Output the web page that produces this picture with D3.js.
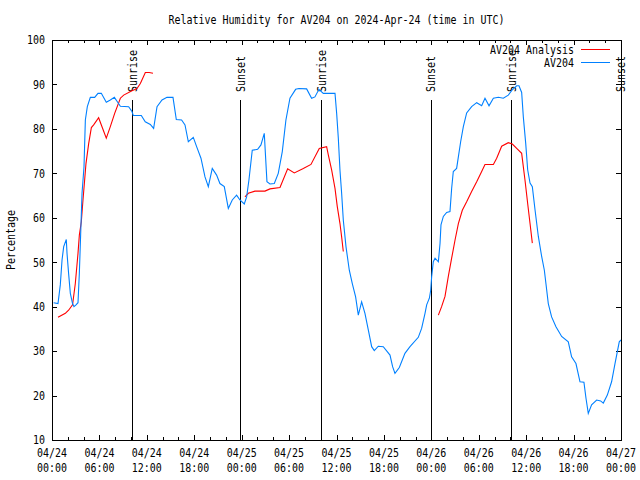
<!DOCTYPE html>
<html>
<head>
<meta charset="utf-8">
<script src="https://cdn.jsdelivr.net/npm/d3@7"></script>
<style>
  body { margin: 0; background: #fff; }
  text { font-family: "DejaVu Sans Mono", monospace; font-size: 12px; fill: #000; }
</style>
</head>
<body>
<div id="plot"></div>
<script>
// hours since 2024-04-24 00:00 UTC, relative humidity (%)
const startDay = Date.UTC(2024, 3, 24);

const obsRH = [
  [0.2,40.9],[0.76,40.7],[1.05,44.9],[1.27,50.5],[1.48,53.5],[1.81,55.1],[1.9,52],[2.1,47.5],[2.32,43],[2.6,40.7],
  [2.78,40],[3.04,40.4],[3.29,40.9],[3.46,47.5],[3.63,56.5],[3.8,65.5],[4.05,71.5],[4.22,82],[4.47,85],[4.85,87.1],
  [5.4,87.1],[5.82,88],[6.24,88],[6.87,86],[7.38,86.5],[7.89,87.1],[8.27,86.1],[8.65,85.1],[9.7,85],[10.12,83.9],
  [10.29,83],[11.3,83],[11.8,81.6],[12.44,81],[12.86,80.1],[13.29,85],[13.92,86.5],[14.55,87.1],[15.31,87.1],[15.73,82.1],
  [16.4,82],[16.83,80.9],[17.25,77.1],[17.88,78.1],[18.3,76],[18.85,73.4],[19.36,69.2],[19.78,67],[20.28,71.1],[20.83,69.6],
  [21.25,67.7],[21.8,67],[22.31,62.1],[22.81,64],[23.36,65.1],[23.78,64],[24.33,63.1],[24.63,64.7],[24.92,68.5],[25.34,75.2],
  [26.02,75.4],[26.44,76.4],[26.86,79],[27.2,68.1],[27.58,67.6],[28.13,67.7],[28.63,70],[29.14,74.9],[29.6,82],[30.11,86.9],
  [30.83,88.9],[31.25,89.1],[32.22,89],[32.85,86.9],[33.27,87.2],[33.78,88.9],[34.33,88],[35.81,88],[36.02,83.5],[36.23,77.9],
  [36.44,70.7],[36.65,65.5],[36.86,59.5],[37.2,53.5],[37.62,48.2],[38,45.2],[38.42,42.2],[38.76,38.1],[39.18,41.1],[39.6,38.5],
  [40.03,34.7],[40.45,31],[40.78,30.1],[41.29,31.1],[41.92,31],[42.77,29.1],[43.1,26.5],[43.4,25],[43.95,26.3],[44.66,29.5],
  [45.3,31],[46.35,33.1],[46.77,35.1],[47.2,38.5],[47.41,40.4],[47.75,41.9],[47.92,43.7],[48.04,46.7],[48.25,50.1],[48.47,50.9],
  [48.89,50.1],[49.1,54.2],[49.22,58.4],[49.52,60.3],[49.94,61.2],[50.36,61.4],[50.57,66.6],[50.78,70.4],[51.2,71.1],[51.42,73.7],
  [51.71,77.1],[52.05,80.5],[52.47,83.6],[53.1,85],[53.74,85.9],[54.37,85.2],[54.79,86.9],[55.3,85.2],[55.85,86.9],[56.48,87.1],
  [57.11,86.9],[57.74,87.6],[58.25,88.8],[58.8,89.7],[59.09,89.7],[59.43,88.2],[59.64,82.7],[59.94,76.8],[60.19,70.8],[60.49,67.8],
  [60.78,67],[61.12,61.8],[61.54,55.8],[61.96,51.3],[62.3,48.2],[62.5,45.2],[62.8,40.7],[63.22,37.7],[63.77,35.5],[64.49,33.3],
  [65.33,32.1],[65.75,28.7],[66.3,27.2],[66.81,23.1],[67.31,23],[67.57,19.4],[67.86,16],[68.28,17.9],[68.92,19],[69.42,18.8],
  [69.76,18.3],[70.27,20.1],[70.81,23.1],[71.24,27.2],[71.78,32.1],[72,32.5]
];

const analysisDay1 = [
  [0.76,37.6],[1.69,38.5],[2.1,39.2],[2.6,40.4],[2.95,45.2],[3.29,52],[3.46,56.1],[3.71,59.1],[3.92,64],[4.13,68.5],
  [4.3,72.2],[4.64,76.7],[4.98,80.3],[5.27,80.9],[5.9,82.5],[6.41,80.1],[6.87,77.9],[7.38,80.5],[7.93,83.5],[8.65,86.9],
  [9.07,87.6],[10.12,88.6],[10.75,89.1],[11.18,90.2],[11.81,92.7],[12.3,92.7],[12.78,92.5]
];
const analysisDay2 = [
  [24.42,64.7],[24.84,65.5],[25.68,66],[26.95,66],[27.58,66.5],[28.85,66.8],[29.82,71],[30.66,70.1],[31.8,71.1],[32.77,72],
  [33.82,75.6],[34.75,76],[34.97,74.1],[35.39,70.7],[35.81,66.6],[36.1,62.5],[36.44,58.7],[36.65,55.7],[36.86,52.4]
];
const analysisDay3 = [
  [48.89,38.1],[49.3,40],[49.73,42.3],[50.15,46.8],[50.57,50.9],[51,55],[51.42,58.7],[51.92,61.7],[52.47,63.6],[53.1,65.9],
  [53.74,68.1],[54.37,70.4],[54.79,72],[55.85,72],[56.27,73.4],[56.9,76.1],[57.74,76.9],[58.25,76.6],[58.8,75.6],[59.43,74.5],
  [59.85,68.5],[60.19,63.2],[60.49,58.7],[60.78,54.3]
];

const sunriseHours = [10.15, 34.08, 58.12];
const sunsetHours = [23.83, 47.92, 71.96];
const yTicks = [10, 20, 30, 40, 50, 60, 70, 80, 90, 100];

const toDate = h => new Date(startDay + h * 3600e3);
const charW = 6;

const svg = d3.select("#plot").append("svg")
  .attr("width", 640)
  .attr("height", 480);

const plotLeft = 52, plotRight = 621, plotTop = 40, plotBottom = 440;

const x = d3.scaleUtc()
  .domain([toDate(0), toDate(72)])
  .range([plotLeft, plotRight]);
const y = d3.scaleLinear()
  .domain([10, 100])
  .range([plotBottom, plotTop]);
// gnuplot "graph" coordinates (0 = bottom, 1 = top)
const graphY = d3.scaleLinear().domain([0, 1]).range([plotBottom, plotTop]);

function squeeze(sel) {
  sel.attr("textLength", function() { return this.textContent.length * charW; })
     .attr("lengthAdjust", "spacingAndGlyphs");
}

// title
svg.append("text")
  .attr("x", (plotLeft + plotRight) / 2)
  .attr("y", 24)
  .attr("text-anchor", "middle")
  .text("Relative Humidity for AV204 on 2024-Apr-24 (time in UTC)")
  .call(squeeze);

// y label
svg.append("text")
  .attr("transform", "translate(15," + ((plotTop + plotBottom) / 2) + ") rotate(-90)")
  .attr("text-anchor", "middle")
  .text("Percentage")
  .call(squeeze);

// ticks
const majorHours = d3.utcHour.every(6);
const minorHours = d3.utcHour.every(2);

function tickAxis(axis, ticks, size, ty) {
  svg.append("g")
    .attr("transform", "translate(0," + ty + ")")
    .attr("shape-rendering", "crispEdges")
    .call(axis.ticks(ticks).tickSize(-size).tickSizeOuter(0).tickFormat(""))
    .call(g => g.select(".domain").remove());
}
tickAxis(d3.axisBottom(x), minorHours, 3, plotBottom);
tickAxis(d3.axisBottom(x), majorHours, 5, plotBottom);
tickAxis(d3.axisTop(x), minorHours, 3, plotTop);
tickAxis(d3.axisTop(x), majorHours, 5, plotTop);

svg.append("g")
  .attr("transform", "translate(" + plotLeft + ",0)")
  .attr("shape-rendering", "crispEdges")
  .call(d3.axisLeft(y).tickValues(yTicks).tickSize(-5).tickSizeOuter(0).tickPadding(7))
  .call(g => g.select(".domain").remove())
  .call(g => g.selectAll("text").call(squeeze));
svg.selectAll("g").attr("font-size", null).attr("font-family", null);

svg.append("g")
  .attr("transform", "translate(" + plotRight + ",0)")
  .attr("shape-rendering", "crispEdges")
  .call(d3.axisRight(y).tickValues(yTicks).tickSize(-5).tickSizeOuter(0).tickFormat(""))
  .call(g => g.select(".domain").remove());

// two-line time labels
const xLabels = svg.append("g").selectAll("text")
  .data(x.ticks(majorHours))
  .enter().append("text")
  .attr("text-anchor", "middle");
xLabels.append("tspan")
  .attr("x", d => x(d))
  .attr("y", plotBottom + 17)
  .text(d3.utcFormat("%m/%d"))
  .call(squeeze);
xLabels.append("tspan")
  .attr("x", d => x(d))
  .attr("y", plotBottom + 32)
  .text(d3.utcFormat("%H:%M"))
  .call(squeeze);

// sunrise / sunset markers
const sunEvents = sunriseHours.map(h => ({h: h, label: "Sunrise"}))
  .concat(sunsetHours.map(h => ({h: h, label: "Sunset"})));

svg.selectAll(".sunline")
  .data(sunEvents)
  .enter().append("line")
  .attr("class", "sunline")
  .attr("x1", d => Math.round(x(toDate(d.h))) + 0.5)
  .attr("x2", d => Math.round(x(toDate(d.h))) + 0.5)
  .attr("y1", graphY(0))
  .attr("y2", graphY(0.85))
  .attr("stroke", "#000")
  .attr("stroke-width", 1)
  .attr("shape-rendering", "crispEdges");

svg.selectAll(".sunlabel")
  .data(sunEvents)
  .enter().append("text")
  .attr("class", "sunlabel")
  .attr("transform", d => "translate(" + (x(toDate(d.h)) + 4.5) + "," + graphY(0.87) + ") rotate(-90)")
  .text(d => d.label)
  .call(squeeze);

// series
const line = d3.line()
  .x(d => x(toDate(d[0])))
  .y(d => y(d[1]));

[analysisDay1, analysisDay2, analysisDay3].forEach(seg => {
  svg.append("path")
    .datum(seg)
    .attr("fill", "none")
    .attr("stroke", "#ff0000")
    .attr("stroke-width", 1.1)
    .attr("d", line);
});

svg.append("path")
  .datum(obsRH)
  .attr("fill", "none")
  .attr("stroke", "#0080ff")
  .attr("stroke-width", 1.1)
  .attr("d", line);

// frame
svg.append("rect")
  .attr("x", plotLeft + 0.5)
  .attr("y", plotTop + 0.5)
  .attr("width", plotRight - plotLeft)
  .attr("height", plotBottom - plotTop)
  .attr("fill", "none")
  .attr("stroke", "#000")
  .attr("stroke-width", 1)
  .attr("shape-rendering", "crispEdges");

// legend
const legendItems = [
  {name: "AV204 Analysis", color: "#ff0000"},
  {name: "AV204", color: "#0080ff"}
];
const legend = svg.selectAll(".legend")
  .data(legendItems)
  .enter().append("g")
  .attr("class", "legend")
  .attr("transform", (d, i) => "translate(0," + (49.5 + i * 13) + ")");
legend.append("text")
  .attr("x", 574)
  .attr("y", 4)
  .attr("text-anchor", "end")
  .text(d => d.name)
  .call(squeeze);
legend.append("line")
  .attr("x1", 581)
  .attr("x2", 610)
  .attr("stroke", d => d.color)
  .attr("stroke-width", 1);
</script>
</body>
</html>
